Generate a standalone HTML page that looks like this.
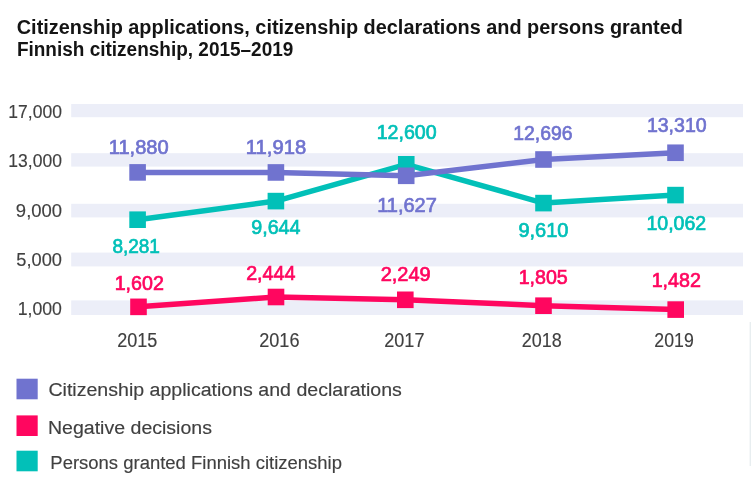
<!DOCTYPE html><html><head><meta charset="utf-8"><title>Citizenship applications chart</title><style>html,body{margin:0;padding:0;background:#fff;width:751px;height:480px;overflow:hidden}svg{display:block;filter:blur(0.55px)}text{font-family:"Liberation Sans",Arial,sans-serif}</style></head><body>
<svg width="751" height="480" viewBox="0 0 751 480">
<rect width="751" height="480" fill="#fff"/>
<rect x="71.2" y="104" width="671.8" height="13.2" fill="#eceef8"/>
<rect x="71.2" y="153.2" width="671.8" height="13.4" fill="#eceef8"/>
<rect x="71.2" y="203.8" width="671.8" height="13.6" fill="#eceef8"/>
<rect x="71.2" y="252.6" width="671.8" height="13.8" fill="#eceef8"/>
<rect x="71.2" y="300.4" width="671.8" height="14.6" fill="#eceef8"/>
<polyline points="138.5,306.85 276,297 405.3,299.8 543.5,305.7 675.7,309.6" fill="none" stroke="#ff065f" stroke-width="5.5" stroke-linejoin="round"/><rect x="130.20" y="298.55" width="16.6" height="16.6" fill="#ff065f"/><rect x="267.70" y="288.70" width="16.6" height="16.6" fill="#ff065f"/><rect x="397.00" y="291.50" width="16.6" height="16.6" fill="#ff065f"/><rect x="535.20" y="297.40" width="16.6" height="16.6" fill="#ff065f"/><rect x="667.40" y="301.30" width="16.6" height="16.6" fill="#ff065f"/>
<polyline points="137.6,219.7 275.9,201.1 406.25,164.3 543.5,203.1 675.5,195.1" fill="none" stroke="#02c0b8" stroke-width="5.5" stroke-linejoin="round"/><rect x="129.30" y="211.40" width="16.6" height="16.6" fill="#02c0b8"/><rect x="267.60" y="192.80" width="16.6" height="16.6" fill="#02c0b8"/><rect x="397.95" y="156.00" width="16.6" height="16.6" fill="#02c0b8"/><rect x="535.20" y="194.80" width="16.6" height="16.6" fill="#02c0b8"/><rect x="667.20" y="186.80" width="16.6" height="16.6" fill="#02c0b8"/>
<polyline points="137.6,172.4 275.9,172.45 406.2,175.8 543.5,159.5 675.5,152.75" fill="none" stroke="#7073cf" stroke-width="5.5" stroke-linejoin="round"/><rect x="129.30" y="164.10" width="16.6" height="16.6" fill="#7073cf"/><rect x="267.60" y="164.15" width="16.6" height="16.6" fill="#7073cf"/><rect x="397.90" y="167.50" width="16.6" height="16.6" fill="#7073cf"/><rect x="535.20" y="151.20" width="16.6" height="16.6" fill="#7073cf"/><rect x="667.20" y="144.45" width="16.6" height="16.6" fill="#7073cf"/>
<text x="16.77" y="34.0" font-size="19.6" font-weight="bold" fill="#141414" textLength="666.10" lengthAdjust="spacingAndGlyphs">Citizenship applications, citizenship declarations and persons granted</text>
<text x="16.89" y="56.0" font-size="19.6" font-weight="bold" fill="#141414" textLength="276.49" lengthAdjust="spacingAndGlyphs">Finnish citizenship, 2015–2019</text>
<text x="8.34" y="117.8" font-size="19.2" stroke="#404040" stroke-width="0.15" fill="#404040" textLength="53.61" lengthAdjust="spacingAndGlyphs">17,000</text>
<text x="8.34" y="167.4" font-size="19.2" stroke="#404040" stroke-width="0.15" fill="#404040" textLength="53.61" lengthAdjust="spacingAndGlyphs">13,000</text>
<text x="15.87" y="216.9" font-size="19.2" stroke="#404040" stroke-width="0.15" fill="#404040" textLength="46.21" lengthAdjust="spacingAndGlyphs">9,000</text>
<text x="16.35" y="266.0" font-size="19.2" stroke="#404040" stroke-width="0.15" fill="#404040" textLength="45.66" lengthAdjust="spacingAndGlyphs">5,000</text>
<text x="17.72" y="315.4" font-size="19.2" stroke="#404040" stroke-width="0.15" fill="#404040" textLength="44.20" lengthAdjust="spacingAndGlyphs">1,000</text>
<text x="117.24" y="347.0" font-size="19.3" stroke="#404040" stroke-width="0.15" fill="#404040" textLength="40.19" lengthAdjust="spacingAndGlyphs">2015</text>
<text x="259.23" y="347.0" font-size="19.3" stroke="#404040" stroke-width="0.15" fill="#404040" textLength="40.27" lengthAdjust="spacingAndGlyphs">2016</text>
<text x="384.23" y="347.0" font-size="19.3" stroke="#404040" stroke-width="0.15" fill="#404040" textLength="40.24" lengthAdjust="spacingAndGlyphs">2017</text>
<text x="521.86" y="347.0" font-size="19.3" stroke="#404040" stroke-width="0.15" fill="#404040" textLength="39.96" lengthAdjust="spacingAndGlyphs">2018</text>
<text x="654.37" y="347.0" font-size="19.3" stroke="#404040" stroke-width="0.15" fill="#404040" textLength="39.37" lengthAdjust="spacingAndGlyphs">2019</text>
<text x="108.79" y="154.1" font-size="20.6" stroke="#7073cf" stroke-width="0.7" fill="#7073cf" textLength="59.89" lengthAdjust="spacingAndGlyphs">11,880</text>
<text x="245.80" y="154.1" font-size="20.6" stroke="#7073cf" stroke-width="0.7" fill="#7073cf" textLength="60.33" lengthAdjust="spacingAndGlyphs">11,918</text>
<text x="377.20" y="211.6" font-size="20.6" stroke="#7073cf" stroke-width="0.7" fill="#7073cf" textLength="59.62" lengthAdjust="spacingAndGlyphs">11,627</text>
<text x="513.24" y="140.3" font-size="20.6" stroke="#7073cf" stroke-width="0.7" fill="#7073cf" textLength="59.40" lengthAdjust="spacingAndGlyphs">12,696</text>
<text x="646.91" y="131.6" font-size="20.6" stroke="#7073cf" stroke-width="0.7" fill="#7073cf" textLength="59.73" lengthAdjust="spacingAndGlyphs">13,310</text>
<text x="112.39" y="252.7" font-size="20.6" stroke="#02c0b8" stroke-width="0.7" fill="#02c0b8" textLength="47.56" lengthAdjust="spacingAndGlyphs">8,281</text>
<text x="251.26" y="234.0" font-size="20.6" stroke="#02c0b8" stroke-width="0.7" fill="#02c0b8" textLength="49.24" lengthAdjust="spacingAndGlyphs">9,644</text>
<text x="376.67" y="139.0" font-size="20.6" stroke="#02c0b8" stroke-width="0.7" fill="#02c0b8" textLength="59.98" lengthAdjust="spacingAndGlyphs">12,600</text>
<text x="518.42" y="236.7" font-size="20.6" stroke="#02c0b8" stroke-width="0.7" fill="#02c0b8" textLength="50.10" lengthAdjust="spacingAndGlyphs">9,610</text>
<text x="646.44" y="229.9" font-size="20.6" stroke="#02c0b8" stroke-width="0.7" fill="#02c0b8" textLength="59.80" lengthAdjust="spacingAndGlyphs">10,062</text>
<text x="114.66" y="289.9" font-size="20.6" stroke="#ff065f" stroke-width="0.7" fill="#ff065f" textLength="49.17" lengthAdjust="spacingAndGlyphs">1,602</text>
<text x="246.17" y="279.9" font-size="20.6" stroke="#ff065f" stroke-width="0.7" fill="#ff065f" textLength="49.30" lengthAdjust="spacingAndGlyphs">2,444</text>
<text x="380.64" y="280.7" font-size="20.6" stroke="#ff065f" stroke-width="0.7" fill="#ff065f" textLength="50.02" lengthAdjust="spacingAndGlyphs">2,249</text>
<text x="518.64" y="283.8" font-size="20.6" stroke="#ff065f" stroke-width="0.7" fill="#ff065f" textLength="49.18" lengthAdjust="spacingAndGlyphs">1,805</text>
<text x="651.66" y="286.5" font-size="20.6" stroke="#ff065f" stroke-width="0.7" fill="#ff065f" textLength="49.17" lengthAdjust="spacingAndGlyphs">1,482</text>
<text x="48.43" y="395.8" font-size="18.8" stroke="#404040" stroke-width="0.15" fill="#404040" textLength="353.45" lengthAdjust="spacingAndGlyphs">Citizenship applications and declarations</text>
<text x="47.98" y="433.6" font-size="18.8" stroke="#404040" stroke-width="0.15" fill="#404040" textLength="164.01" lengthAdjust="spacingAndGlyphs">Negative decisions</text>
<text x="50.32" y="468.9" font-size="18.8" stroke="#404040" stroke-width="0.15" fill="#404040" textLength="291.66" lengthAdjust="spacingAndGlyphs">Persons granted Finnish citizenship</text>
<rect x="16.5" y="378.7" width="21.2" height="20.6" fill="#7073cf"/>
<rect x="16.5" y="415.4" width="21.2" height="20.6" fill="#ff065f"/>
<rect x="16.5" y="450.7" width="21.2" height="20.6" fill="#02c0b8"/>
<rect x="749.6" y="322" width="1.4" height="144" fill="#e8eef0"/>
</svg></body></html>
